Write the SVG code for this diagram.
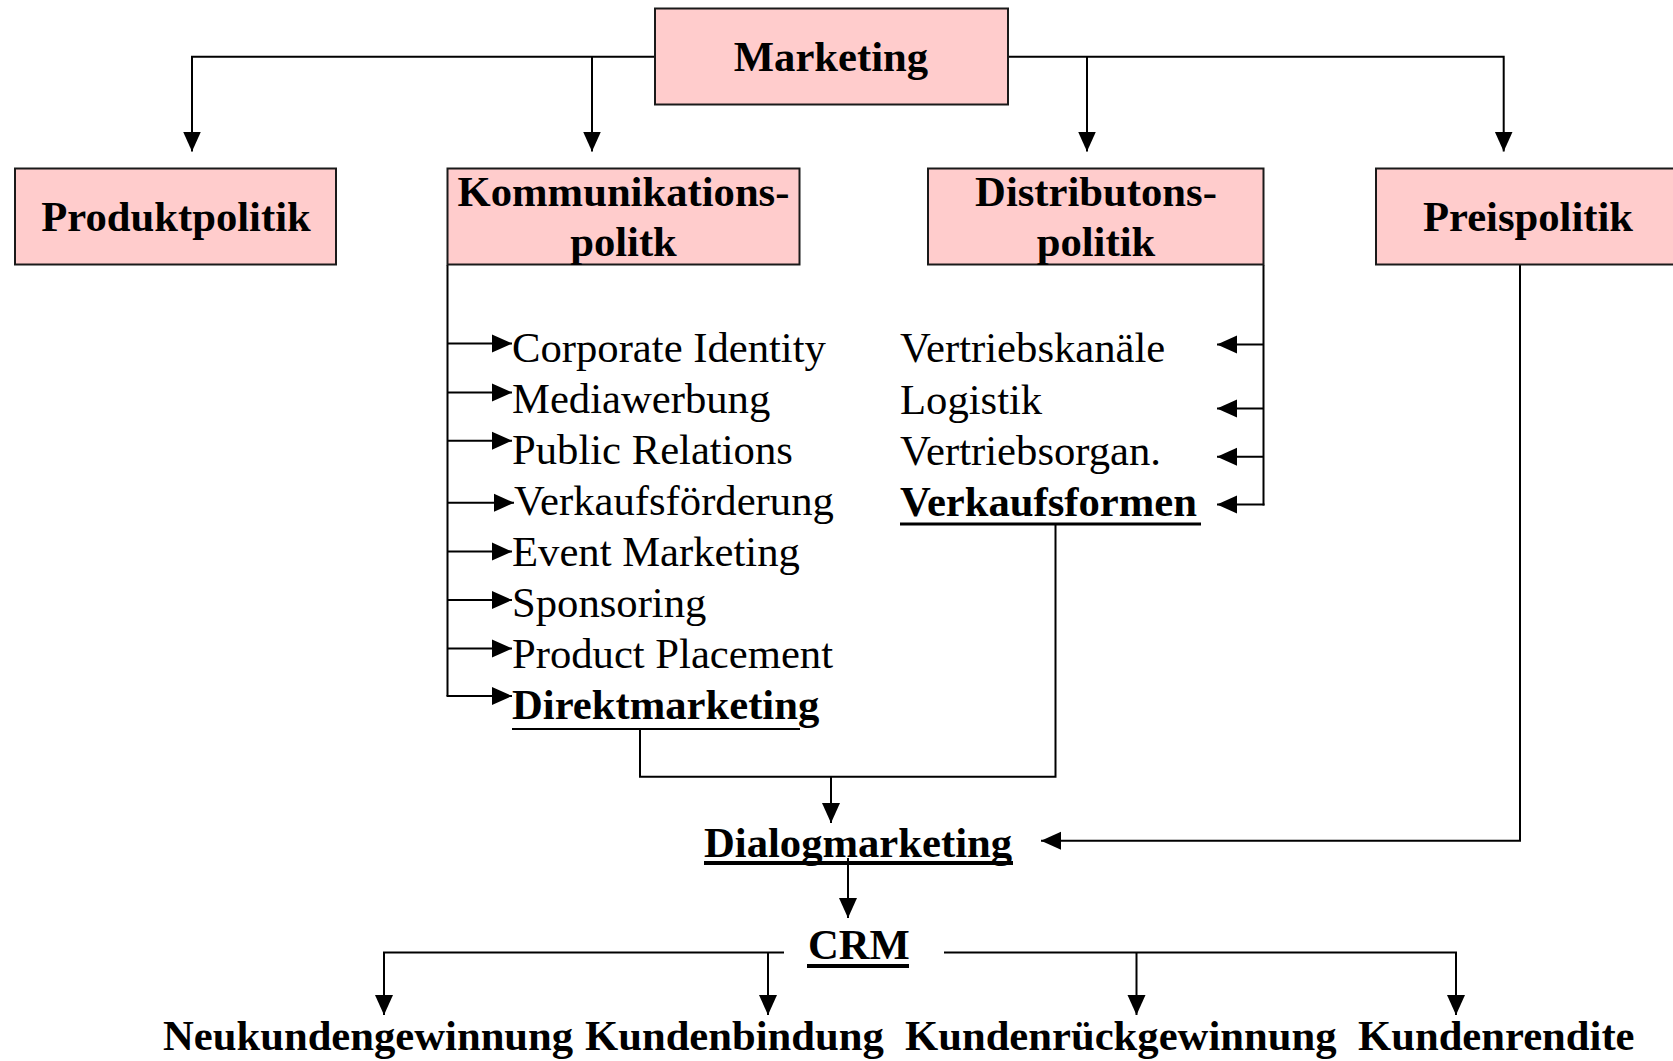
<svg xmlns="http://www.w3.org/2000/svg" width="1673" height="1061" viewBox="0 0 1673 1061">
<defs>
<marker id="ah" markerUnits="userSpaceOnUse" markerWidth="20" markerHeight="20" viewBox="0 0 20 20" refX="20" refY="10" orient="auto">
<path d="M0,1 L20,10 L0,19 Z" fill="#000"/>
</marker>
<style>
.box{fill:#FFCCCC;stroke:#1a1a1a;stroke-width:2}
.t{font-family:"Liberation Serif","Times New Roman",serif;font-size:42.67px;fill:#000}
.b{font-weight:bold}
.c{text-anchor:middle}
.ln{fill:none;stroke:#000;stroke-width:2}
.ar{fill:none;stroke:#000;stroke-width:2;marker-end:url(#ah)}
.ul{stroke:#000}
</style>
</defs>
<rect width="1673" height="1061" fill="#fff"/>

<g id="connectors">
<!-- Marketing branches -->
<polyline class="ar" points="655,56.7 192,56.7 192,151.5"/>
<line class="ar" x1="592" y1="56.7" x2="592" y2="151.5"/>
<polyline class="ar" points="1008,56.7 1503.7,56.7 1503.7,151.5"/>
<line class="ar" x1="1087" y1="56.7" x2="1087" y2="151.5"/>
<!-- Kommunikation list -->
<line class="ln" x1="447.5" y1="265" x2="447.5" y2="696"/>
<line class="ar" x1="447.5" y1="343.5" x2="512" y2="343.5"/>
<line class="ar" x1="447.5" y1="392.5" x2="512" y2="392.5"/>
<line class="ar" x1="447.5" y1="440.7" x2="512" y2="440.7"/>
<line class="ar" x1="447.5" y1="502.8" x2="514" y2="502.8"/>
<line class="ar" x1="447.5" y1="551.6" x2="512" y2="551.6"/>
<line class="ar" x1="447.5" y1="600" x2="512" y2="600"/>
<line class="ar" x1="447.5" y1="648.5" x2="512" y2="648.5"/>
<line class="ar" x1="446.5" y1="696" x2="512" y2="696"/>
<!-- Distribution list -->
<line class="ln" x1="1263.5" y1="265" x2="1263.5" y2="505.5"/>
<line class="ar" x1="1263.5" y1="344.6" x2="1217" y2="344.6"/>
<line class="ar" x1="1263.5" y1="408.5" x2="1217" y2="408.5"/>
<line class="ar" x1="1263.5" y1="456.7" x2="1217" y2="456.7"/>
<line class="ar" x1="1264.5" y1="504.5" x2="1217" y2="504.5"/>
<!-- Direktmarketing / Verkaufsformen to Dialogmarketing -->
<polyline class="ln" points="640,729 640,776.7 1055.5,776.7 1055.5,524"/>
<line class="ar" x1="831" y1="776.7" x2="831" y2="823"/>
<!-- Preispolitik to Dialogmarketing -->
<polyline class="ar" points="1520,265 1520,840.8 1041,840.8"/>
<!-- Dialogmarketing to CRM -->
<line class="ar" x1="848" y1="858" x2="848" y2="918"/>
<!-- CRM branches -->
<polyline class="ar" points="784,952.5 384,952.5 384,1015"/>
<line class="ar" x1="768" y1="952.5" x2="768" y2="1015"/>
<polyline class="ar" points="944,952.5 1456,952.5 1456,1015"/>
<line class="ar" x1="1136.5" y1="952.5" x2="1136.5" y2="1015"/>
</g>

<g id="marketing">
<rect class="box" x="655" y="8.5" width="353" height="96"/>
<text class="t b c" x="831" y="71">Marketing</text>
</g>
<g id="produktpolitik">
<rect class="box" x="15" y="168.5" width="321" height="96"/>
<text class="t b c" x="176" y="231">Produktpolitik</text>
</g>
<g id="kommunikationspolitik">
<rect class="box" x="447.5" y="168.5" width="352" height="96"/>
<text class="t b c" x="623.5" y="206">Kommunikations-</text>
<text class="t b c" x="623.5" y="256">politk</text>
</g>
<g id="distributionspolitik">
<rect class="box" x="928" y="168.5" width="335.5" height="96"/>
<text class="t b c" x="1096" y="206">Distributons-</text>
<text class="t b c" x="1096" y="256">politik</text>
</g>
<g id="preispolitik">
<rect class="box" x="1376" y="168.5" width="310" height="96"/>
<text class="t b c" x="1528" y="231">Preispolitik</text>
</g>

<g id="kommunikation-items">
<text class="t" x="512" y="361.5">Corporate Identity</text>
<text class="t" x="512" y="412.5">Mediawerbung</text>
<text class="t" x="512" y="463.5">Public Relations</text>
<text class="t" x="514" y="514.5">Verkaufsförderung</text>
<text class="t" x="512" y="565.5">Event Marketing</text>
<text class="t" x="512" y="616.5">Sponsoring</text>
<text class="t" x="512" y="667.5">Product Placement</text>
</g>
<g id="direktmarketing">
<text class="t b" x="512" y="718.5">Direktmarketing</text>
<line class="ul" x1="512" y1="729" x2="800" y2="729" stroke-width="2"/>
</g>

<g id="distribution-items">
<text class="t" x="900" y="362">Vertriebskanäle</text>
<text class="t" x="900" y="414">Logistik</text>
<text class="t" x="900" y="465">Vertriebsorgan.</text>
</g>
<g id="verkaufsformen">
<text class="t b" x="900" y="515.5">Verkaufsformen</text>
<line class="ul" x1="900" y1="524" x2="1201" y2="524" stroke-width="3"/>
</g>

<g id="dialogmarketing">
<text class="t b" x="704" y="856.5">Dialogmarketing</text>
<line class="ul" x1="704" y1="863" x2="1013" y2="863" stroke-width="4"/>
</g>

<g id="crm">
<text class="t b" x="808" y="959">CRM</text>
<line class="ul" x1="807" y1="966" x2="909" y2="966" stroke-width="4"/>
</g>

<g id="neukundengewinnung"><text class="t b" x="163" y="1050">Neukundengewinnung</text></g>
<g id="kundenbindung"><text class="t b" x="585" y="1050">Kundenbindung</text></g>
<g id="kundenrueckgewinnung"><text class="t b" x="905" y="1050">Kundenrückgewinnung</text></g>
<g id="kundenrendite"><text class="t b" x="1358" y="1050">Kundenrendite</text></g>
</svg>
